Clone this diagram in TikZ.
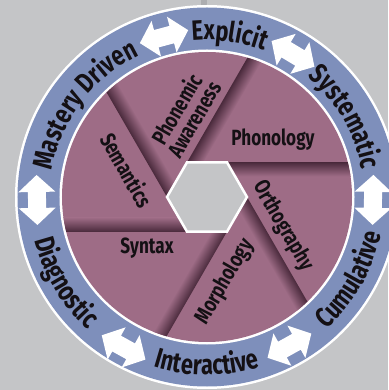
\documentclass[tikz,border=0pt]{standalone}
\usepackage{fontspec}
\newfontfamily\wheelfont[FakeStretch=0.78]{Fira Sans}
\usetikzlibrary{decorations.text}

\definecolor{bggray}{RGB}{196,197,199}
\definecolor{stripgray}{RGB}{172,173,176}
\definecolor{ringblue}{RGB}{126,143,187}
\definecolor{bladepink}{RGB}{158,108,134}
\definecolor{bladeshadow}{RGB}{74,42,60}
\definecolor{inktext}{RGB}{20,16,20}

\begin{document}
\begin{tikzpicture}[x=1pt,y=1pt,
  ringarrow/.style={fill=white},
  ringword/.style={decorate, decoration={text along path, text align=center,
    text color=inktext, text={|\wheelfont\bfseries\fontsize{28}{28}\selectfont|#1}}},
  bladelabel/.style={font=\wheelfont\bfseries\fontsize{22}{20}\selectfont,
    text=inktext, align=center, inner sep=0pt}]
\useasboundingbox (-207,-193) rectangle (181,197);
\fill[bggray] (-207,-193) rectangle (181,197);
\fill[stripgray] (-6,191) rectangle (0,197);

% ring
\fill[white] (0,0) circle (192);
\fill[ringblue] (0,0) circle (189.5);
\fill[white] (0,0) circle (147.5);
\fill[bladepink] (0,0) circle (145);

% shutter blades
\foreach \a in {0,60,...,300}
  \coordinate (v\a) at (\a:40);
\begin{scope}
\clip (0,0) circle (145);
\foreach \a in {0,60,...,300}{
  \begin{scope}[transform canvas={shift={(\a:40pt)}, rotate=\a-60}]
    \shade[top color=bladeshadow, bottom color=bladepink] (0,-14) rectangle (200,0);
  \end{scope}
}
\end{scope}
\draw[white, line width=2.5pt, fill=bggray]
  (v0) -- (v60) -- (v120) -- (v180) -- (v240) -- (v300) -- cycle;

% blade labels
\node[bladelabel] (phonology) at (66,57) {Phonology};
\node[bladelabel, rotate=60] (phonemic) at (-22,83) {Phonemic\\Awareness};
\node[bladelabel, rotate=-60] (semantics) at (-80,27) {Semantics};
\node[bladelabel] (syntax) at (-60,-51) {Syntax};
\node[bladelabel, rotate=60] (morphology) at (18,-85) {Morphology};
\node[bladelabel, rotate=-60] (orthography) at (76,-29) {Orthography};

% ring words
\path[ringword=Mastery Driven] (183:157) arc[start angle=183, end angle=103, radius=157];
\path[ringword=Explicit] (122:157) arc[start angle=122, end angle=42, radius=157];
\path[ringword=Systematic] (70:157) arc[start angle=70, end angle=-10, radius=157];
\path[ringword=Cumulative] (-70:178) arc[start angle=-70, end angle=10, radius=178];
\path[ringword=Interactive] (-130:178) arc[start angle=-130, end angle=-50, radius=178];
\path[ringword=Diagnostic] (171:178) arc[start angle=171, end angle=251, radius=178];

% arrows between the words
\foreach \a/\r in {105/166, 59/167, -1/166, -61/170, 241/172, 181/170}
  \fill[ringarrow, shift={(\a:\r)}, rotate=\a+90]
    (-25,0) -- (-8,18.5) -- (-8,9) -- (8,9) -- (8,18.5) -- (25,0)
    -- (8,-18.5) -- (8,-9) -- (-8,-9) -- (-8,-18.5) -- cycle;
\end{tikzpicture}
\end{document}
